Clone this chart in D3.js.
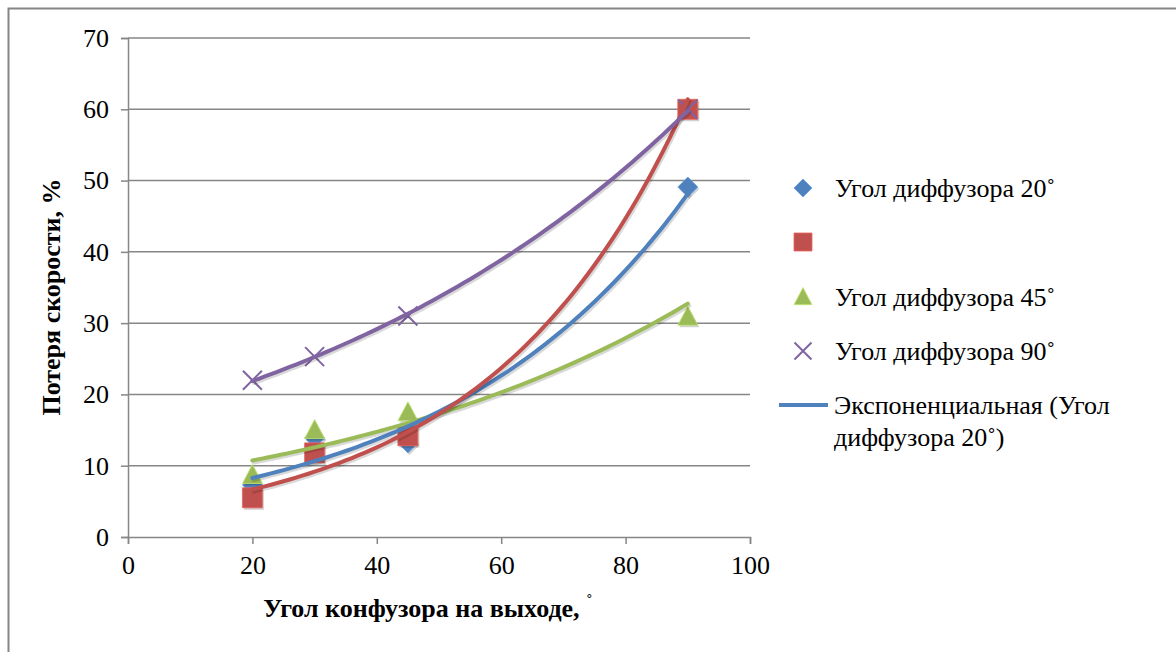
<!DOCTYPE html>
<html><head><meta charset="utf-8">
<script src="https://cdn.jsdelivr.net/npm/d3@7"></script>
<style>
@font-face{font-family:"ChartSerif";src:local("Liberation Serif"),local("LiberationSerif-Regular"),local("Tinos");font-weight:normal;}
@font-face{font-family:"ChartSerif";src:local("Liberation Serif Bold"),local("LiberationSerif-Bold"),local("Tinos Bold");font-weight:bold;}
</style>
</head><body style="margin:0">
<script>
const xValues = [20, 30, 45, 90];
const seriesNames = ["Угол диффузора 20˚", "", "Угол диффузора 45˚", "Угол диффузора 90˚"];
const series20 = [7.3, 13.9, 13.2, 49.1];
const series30 = [5.5, 11.8, 14.2, 60.0];
const series45 = [8.7, 15.0, 17.5, 30.9];
const series90 = [22.0, 25.3, 31.0, 60.0];
const seriesColors = ["#4F81BD", "#C0504D", "#9BBB59", "#8064A2"];
const seriesMarkers = ["diamond", "square", "triangle", "x"];
const xTicks = [0, 20, 40, 60, 80, 100];
const yTicks = [0, 10, 20, 30, 40, 50, 60, 70];
const trendLegend = ["Экспоненциальная (Угол", "диффузора 20˚)"];
const xTitle = "Угол конфузора на выходе, ";
const yTitle = "Потеря скорости, %";

const W = 1176, H = 652;
const FS = 26;
const FONT = '"Liberation Serif", "ChartSerif", Tinos, "Times New Roman", serif';
const svg = d3.select("body").append("svg").attr("width", W).attr("height", H);

svg.append("rect").attr("x",8.5).attr("y",8.5).attr("width",1300).attr("height",800)
  .attr("fill","none").attr("stroke","#868686").attr("stroke-width",2);

const x = d3.scaleLinear().domain([0,100]).range([128,750]);
const y = d3.scaleLinear().domain([0,70]).range([537,38]);
const gridC = "#868686";

function txt(sel, size, bold){
  sel.attr("font-family", FONT).style("font-family", FONT).style("font-size", size+"px");
  if(bold) sel.style("font-weight","bold");
  return sel;
}

// grid
svg.append("g").selectAll("line").data(yTicks.filter(d=>d>0)).join("line")
  .attr("x1",x(0)).attr("x2",x(100)).attr("y1",d=>y(d)).attr("y2",d=>y(d))
  .attr("stroke",gridC).attr("stroke-width",1.5);

// axes
const yAxis = d3.axisLeft(y).tickValues(yTicks).tickSize(7).tickPadding(10);
const gy = svg.append("g").attr("transform",`translate(${x(0)},0)`).call(yAxis);
const xAxis = d3.axisBottom(x).tickValues(xTicks).tickSize(7).tickPadding(9);
const gx = svg.append("g").attr("transform",`translate(0,${y(0)})`).call(xAxis);
[gx,gy].forEach(g=>{
  g.attr("font-family", FONT).attr("font-size", FS);
  g.select(".domain").attr("stroke",gridC).attr("stroke-width",1.5);
  g.selectAll(".tick line").attr("stroke",gridC).attr("stroke-width",1.5);
  txt(g.selectAll(".tick text"), FS, false).attr("fill","#000");
});
gy.selectAll(".tick text").attr("dx",-2);
gx.selectAll(".tick text").attr("dy","0.8em");

// axis titles
const xt = txt(svg.append("text").attr("x",428).attr("y",617).attr("text-anchor","middle"), FS, true);
xt.append("tspan").text(xTitle);
xt.append("tspan").text("˚").style("font-size","20px").style("font-weight","normal").attr("dy",-8);
txt(svg.append("text").attr("transform","translate(60,297) rotate(-90)").attr("text-anchor","middle"), FS, true).text(yTitle);

function markerPath(type, s){
  if(type==="diamond") return `M0,${-s}L${s},0L0,${s}L${-s},0Z`;
  if(type==="square") return `M${-s},${-s}H${s}V${s}H${-s}Z`;
  if(type==="triangle") return `M0,${-s*1.05}L${s},${s*0.85}L${-s},${s*0.85}Z`;
  return `M${-s},${-s}L${s},${s}M${s},${-s}L${-s},${s}`;
}
function drawMarker(g, type, color, cx, cy, s, shadow){
  if(shadow && type!=="x"){
    g.append("path").attr("d",markerPath(type,s)).attr("transform",`translate(${cx+1.5},${cy+2})`)
      .attr("fill","#000").attr("opacity",0.18);
  }
  const p = g.append("path").attr("d",markerPath(type,s)).attr("transform",`translate(${cx},${cy})`);
  if(type==="x") p.attr("fill","none").attr("stroke",color).attr("stroke-width",2);
  else p.attr("fill",color).attr("stroke",d3.color(color).brighter(0.6)).attr("stroke-width",0.8);
  return p;
}

const allSeries = [series20, series30, series45, series90];
const sizes = [10, 10, 10, 9.5];
const mg = svg.append("g");
allSeries.forEach((vals,i)=>{
  vals.forEach((v,j)=>{
    drawMarker(mg, seriesMarkers[i], seriesColors[i], x(xValues[j]), y(v), sizes[i], true);
  });
});

// exponential trendlines (least squares on ln y)
function expFit(xs, ys){
  const ly = ys.map(Math.log);
  const mx = d3.mean(xs), my = d3.mean(ly);
  let sxy=0, sxx=0;
  xs.forEach((xv,k)=>{ sxy += (xv-mx)*(ly[k]-my); sxx += (xv-mx)**2; });
  const b = sxy/sxx, a = my - b*mx;
  return xv => Math.exp(a + b*xv);
}
const line = d3.line().x(d=>x(d[0])).y(d=>y(d[1])).curve(d3.curveMonotoneX);
const tg = svg.append("g");
[2,0,1,3].forEach(i=>{
  const fn = expFit(xValues, allSeries[i]);
  const pts = d3.range(xValues[0], xValues[xValues.length-1]+0.001, 1).map(xv=>[xv, fn(xv)]);
  tg.append("path").attr("d",line(pts)).attr("fill","none").attr("stroke","#000").attr("opacity",0.15)
    .attr("stroke-width",4).attr("stroke-linecap","round").attr("transform","translate(1.5,2)");
  tg.append("path").attr("d",line(pts)).attr("fill","none").attr("stroke",seriesColors[i])
    .attr("stroke-width",4).attr("stroke-linecap","round");
});

// legend
const lg = svg.append("g");
const rowsY = [188, 242, 297, 351];
const legSizes = [9, 9, 9, 8.5];
seriesNames.forEach((nm,i)=>{
  drawMarker(lg, seriesMarkers[i], seriesColors[i], 803, rowsY[i], legSizes[i], false);
  if(nm) txt(lg.append("text").attr("x",835).attr("y",rowsY[i]+9), FS, false).text(nm);
});
lg.append("line").attr("x1",779).attr("x2",828).attr("y1",405).attr("y2",405)
  .attr("stroke",seriesColors[0]).attr("stroke-width",4);
trendLegend.forEach((t,k)=>{
  txt(lg.append("text").attr("x",834).attr("y",414+k*32), FS, false).text(t);
});
</script>
</body></html>
